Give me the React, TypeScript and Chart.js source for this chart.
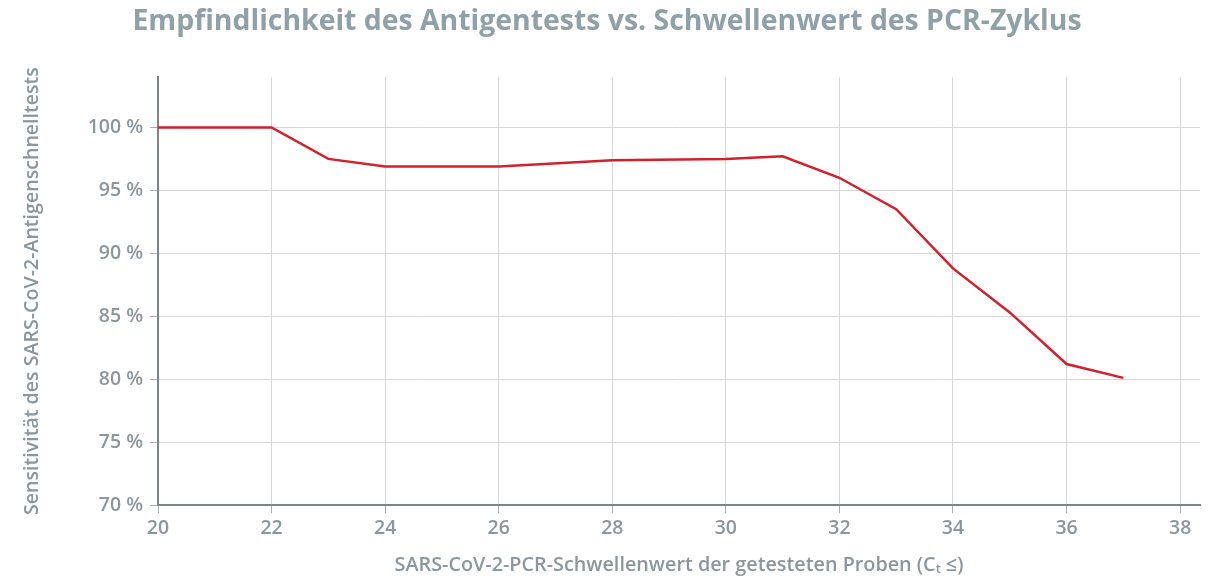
import React, { useEffect, useRef } from 'react';
import { Chart, registerables } from 'chart.js';

Chart.register(...registerables);

const ctValues = [20, 22, 23, 24, 26, 28, 30, 31, 32, 33, 34, 35, 36, 37];
const sensitivity = [100, 100, 97.5, 96.9, 96.9, 97.4, 97.5, 97.7, 96.0, 93.5, 88.8, 85.3, 81.2, 80.1];
const xTickValues = [20, 22, 24, 26, 28, 30, 32, 34, 36, 38];
const yTickValues = [70, 75, 80, 85, 90, 95, 100];

const titleText = 'Empfindlichkeit des Antigentests vs. Schwellenwert des PCR-Zyklus';
const xTitle = 'SARS-CoV-2-PCR-Schwellenwert der getesteten Proben (Cₜ ≤)';
const yTitle = 'Sensitivität des SARS-CoV-2-Antigenschnelltests';

const FONT = '"Open Sans", "DejaVu Sans", sans-serif';
const TEXT_COLOR = '#8b969d';
const TITLE_COLOR = '#8fa0a9';
const GRID_COLOR = '#d6d6d6';
const AXIS_COLOR = '#7d8488';
const LINE_COLOR = '#d2202c';

export default function App() {
  const ref = useRef<HTMLCanvasElement | null>(null);

  useEffect(() => {
    if (!ref.current) return;
    const chart = new Chart(ref.current, {
      type: 'line',
      data: {
        datasets: [
          {
            data: ctValues.map((x, i) => ({ x, y: sensitivity[i] })),
            borderColor: LINE_COLOR,
            borderWidth: 2.5,
            pointRadius: 0,
            tension: 0,
            fill: false,
          },
        ],
      },
      options: {
        animation: false,
        responsive: false,
        layout: { padding: { left: 14, right: 14, top: 0, bottom: 0 } },
        plugins: {
          legend: { display: false },
          tooltip: { enabled: false },
          title: {
            display: true,
            text: titleText,
            color: TITLE_COLOR,
            font: { family: FONT, size: 28.4, weight: 'bold' },
            padding: { top: 5, bottom: 38 },
          },
        },
        scales: {
          x: {
            type: 'linear',
            min: 20,
            max: 38.35,
            afterBuildTicks: (scale: any) => {
              scale.ticks = xTickValues.map((v) => ({ value: v }));
            },
            afterFit: (scale: any) => {
              scale.height = 73;
            },
            ticks: {
              color: TEXT_COLOR,
              font: { family: FONT, size: 19.5, weight: '600' },
              padding: 4,
              maxRotation: 0,
            },
            grid: {
              color: GRID_COLOR,
              lineWidth: 1,
              drawTicks: true,
              tickLength: 8,
              tickColor: '#a9aeb1',
            },
            border: { display: true, color: AXIS_COLOR, width: 2 },
            title: {
              display: true,
              text: xTitle,
              color: TEXT_COLOR,
              font: { family: FONT, size: 19.8, weight: '600' },
              padding: { top: 0, bottom: 1 },
            },
          },
          y: {
            type: 'linear',
            min: 70,
            max: 104,
            afterBuildTicks: (scale: any) => {
              scale.ticks = yTickValues.map((v) => ({ value: v }));
            },
            afterFit: (scale: any) => {
              scale.width = 144;
            },
            ticks: {
              color: TEXT_COLOR,
              font: { family: FONT, size: 19.5, weight: '600' },
              padding: 7,
              callback: (v: any) => `${v} %`,
            },
            grid: {
              color: GRID_COLOR,
              lineWidth: 1,
              drawTicks: true,
              tickLength: 8,
              tickColor: '#a9aeb1',
            },
            border: { display: true, color: AXIS_COLOR, width: 2 },
            title: {
              display: true,
              text: yTitle,
              color: TEXT_COLOR,
              font: { family: FONT, size: 19.6, weight: '600' },
              padding: { top: 7, bottom: 0 },
            },
          },
        },
      },
    });
    return () => chart.destroy();
  }, []);

  return (
    <div style={{ position: 'fixed', left: 0, top: 0, width: 1214, height: 578, background: '#fff' }}>
      <canvas ref={ref} width={1214} height={578} style={{ display: 'block' }} />
    </div>
  );
}
